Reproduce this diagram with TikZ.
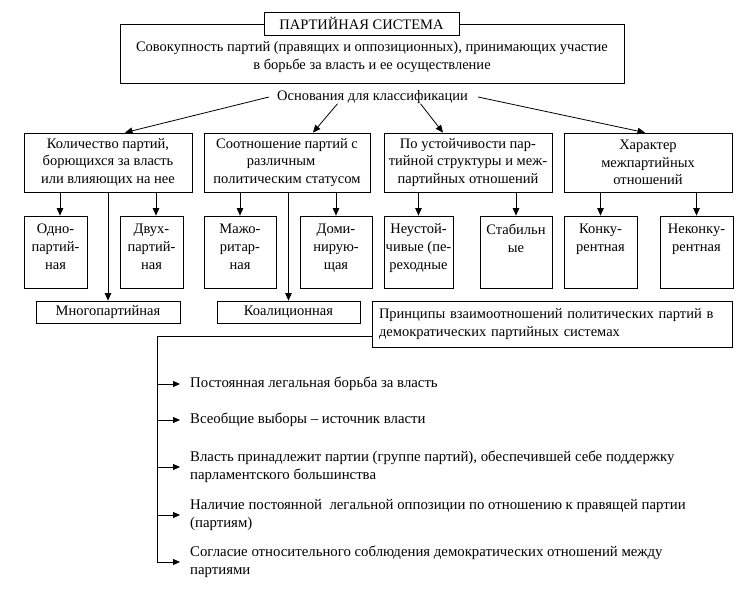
\documentclass[tikz,border=0pt]{standalone}
\usepackage{fontspec}
\setmainfont{Liberation Serif}
\usetikzlibrary{arrows.meta}
\begin{document}
\begin{tikzpicture}[x=1pt,y=-1pt,
  every node/.style={font=\fontsize{14.5}{17.5}\selectfont, inner sep=0pt},
  box/.style={draw, line width=0.8pt, align=center},
  lbox/.style={draw, line width=0.8pt, minimum width=#1, minimum height=72pt},
  ltext/.style={anchor=north, align=center, font=\fontsize{14.5}{18}\selectfont},
  item/.style={anchor=west, align=left, font=\fontsize{14.8}{18}\selectfont},
  ln/.style={line width=0.8pt},
  arr/.style={line width=0.8pt, -{Triangle[length=7.5pt,width=6.5pt]}},
  sarr/.style={line width=0.8pt, -{Triangle[length=7pt,width=6pt]}}]
\useasboundingbox (0,0) rectangle (745,613);

% top
\node[box, minimum width=504pt, minimum height=59pt] (big) at (372,53.5)
  {\rule{0pt}{17pt}Совокупность партий (правящих и оппозиционных), принимающих участие\\в борьбе за власть и ее осуществление};
\node[box, fill=white, minimum width=195pt, minimum height=23pt] (title) at (361.5,23.5) {ПАРТИЙНАЯ СИСТЕМА};
\node (osn) at (372.5,97) {Основания для классификации};

% level 2
\node[box, minimum width=168pt, minimum height=59pt] (b1) at (108,162.5)
  {Количество партий,\\борющихся за власть\\или влияющих на нее};
\node[box, minimum width=166pt, minimum height=59pt] (b2) at (287,162.5)
  {Соотношение партий с\\различным\rule{12pt}{0pt}\\политическим статусом};
\node[box, minimum width=168pt, minimum height=59pt] (b3) at (468,162.5)
  {По устойчивости пар-\\тийной структуры и меж-\\партийных отношений};
\node[box, minimum width=168pt, minimum height=59pt] (b4) at (648,162.5)
  {Характер\\межпартийных\\отношений};

% level 3 boxes
\node[lbox=63pt] (c1) at (55.5,252) {};
\node[lbox=63pt] (c2) at (151.5,252) {};
\node[lbox=72pt] (c3) at (240,252) {};
\node[lbox=72pt] (c4) at (336,252) {};
\node[lbox=69pt] (c5) at (418.5,252) {};
\node[lbox=72pt] (c6) at (516,252) {};
\node[lbox=73pt] (c7) at (600.5,252) {};
\node[lbox=73pt] (c8) at (696.5,252) {};
% level 3 texts
\node[ltext] (t1) at ([yshift=-8pt]c1.north) {Одно-\\партий-\\ная};
\node[ltext] (t2) at ([yshift=-8pt]c2.north) {Двух-\\партий-\\ная};
\node[ltext] (t3) at ([yshift=-8pt]c3.north) {Мажо-\\ритар-\\ная};
\node[ltext] (t4) at ([yshift=-8pt]c4.north) {Доми-\\нирую-\\щая};
\node[ltext] (t5) at ([yshift=-8pt]c5.north) {Неустой-\\чивые (пе-\\реходные};
\node[ltext] (t6) at ([yshift=-8pt]c6.north) {Стабильн\\ые};
\node[ltext] (t7) at ([yshift=-8pt]c7.north) {Конку-\\рентная};
\node[ltext] (t8) at ([yshift=-8pt]c8.north) {Неконку-\\рентная};

% bottom boxes
\node[box, minimum width=144pt, minimum height=22pt] (m1) at (108,312) {Многопартийная};
\node[box, minimum width=143pt, minimum height=22pt] (m2) at (288.5,312) {Коалиционная};
\node[draw, line width=0.8pt, align=left, text width=346pt, inner xsep=7pt, minimum height=46pt] (pr) at (552,324)
  {Принципы взаимоотношений политических партий в\\демократических партийных системах};

% items
\node[item] (i1) at (190,384) {Постоянная легальная борьба за власть};
\node[item] (i2) at (190,420) {Всеобщие выборы – источник власти};
\node[item] (i3) at (190,467) {Власть принадлежит партии (группе партий), обеспечившей себе поддержку\\парламентского большинства};
\node[item] (i4) at (190,515) {Наличие постоянной \ легальной оппозиции по отношению к правящей партии\\(партиям)};
\node[item] (i5) at (190,562) {Согласие относительного соблюдения демократических отношений между\\партиями};

% connectors from "Основания"
\draw[arr] ([xshift=-8pt]osn.west) -- ([xshift=17pt]b1.north);
\draw[arr] ([xshift=-35pt]osn.south) -- ([xshift=26pt]b2.north);
\draw[arr] ([xshift=48pt]osn.south) -- ([xshift=-25pt]b3.north);
\draw[arr] ([xshift=10pt]osn.east) -- ([xshift=-3pt]b4.north);

% level 2 -> level 3
\draw[arr] ([xshift=4.5pt]c1.north |- b1.south) -- ([xshift=4.5pt]c1.north);
\draw[arr] ([xshift=4.5pt]c2.north |- b1.south) -- ([xshift=4.5pt]c2.north);
\draw[arr] (c3.north |- b2.south) -- (c3.north);
\draw[arr] (c4.north |- b2.south) -- (c4.north);
\draw[arr] (c5.north |- b3.south) -- (c5.north);
\draw[arr] (c6.north |- b3.south) -- (c6.north);
\draw[arr] (c7.north |- b4.south) -- (c7.north);
\draw[arr] (c8.north |- b4.south) -- (c8.north);

% long lines
\draw[arr] (b1.south) -- (m1.north);
\draw[arr] (m2.north |- b2.south) -- (m2.north);

% bracket
\coordinate (bk) at (157,336);
\draw[ln] ([yshift=-12pt]pr.west) -- (bk) -- (bk |- i5.west);
\draw[sarr] (bk |- i1.west) -- ([xshift=-10pt]i1.west);
\draw[sarr] (bk |- i2.west) -- ([xshift=-10pt]i2.west);
\draw[sarr] (bk |- i3.west) -- ([xshift=-10pt]i3.west);
\draw[sarr] (bk |- i4.west) -- ([xshift=-10pt]i4.west);
\draw[sarr] (bk |- i5.west) -- ([xshift=-10pt]i5.west);
\end{tikzpicture}
\end{document}
